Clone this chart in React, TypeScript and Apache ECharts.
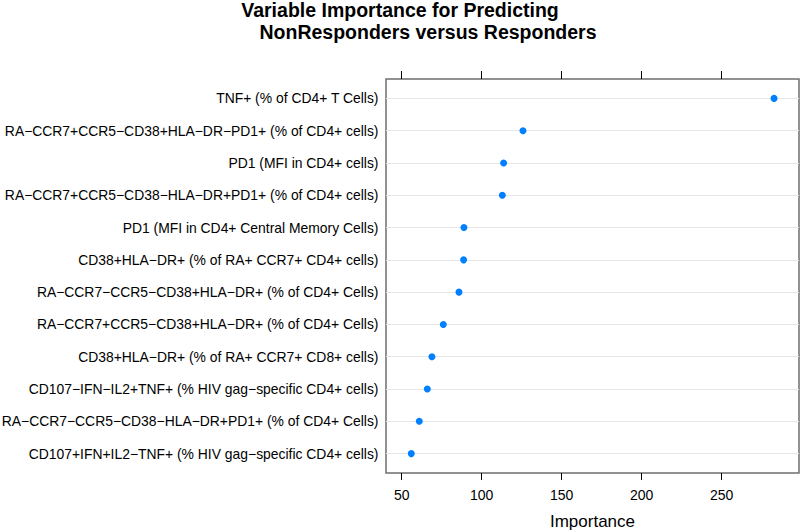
import React, { useEffect, useRef } from "react";
import * as echarts from "echarts";

const categories: string[] = [
  "TNF+ (% of CD4+ T Cells)",
  "RA−CCR7+CCR5−CD38+HLA−DR−PD1+ (% of CD4+ cells)",
  "PD1 (MFI in CD4+ cells)",
  "RA−CCR7+CCR5−CD38−HLA−DR+PD1+ (% of CD4+ cells)",
  "PD1 (MFI in CD4+ Central Memory Cells)",
  "CD38+HLA−DR+ (% of RA+ CCR7+ CD4+ cells)",
  "RA−CCR7−CCR5−CD38+HLA−DR+ (% of CD4+ Cells)",
  "RA−CCR7+CCR5−CD38+HLA−DR+ (% of CD4+ Cells)",
  "CD38+HLA−DR+ (% of RA+ CCR7+ CD8+ cells)",
  "CD107−IFN−IL2+TNF+ (% HIV gag−specific CD4+ cells)",
  "RA−CCR7−CCR5−CD38−HLA−DR+PD1+ (% of CD4+ Cells)",
  "CD107+IFN+IL2−TNF+ (% HIV gag−specific CD4+ cells)",
];

const importance: number[] = [282.7, 125.8, 113.7, 112.9, 88.9, 88.7, 85.8, 76.0, 68.9, 66.0, 61.0, 56.0];

const xTicks: number[] = [50, 100, 150, 200, 250];
const titleLines: string[] = ["Variable Importance for Predicting", "NonResponders versus Responders"];
const xName = "Importance";

const FONT = "'Liberation Sans', Arial, Helvetica, sans-serif";

export default function App() {
  const ref = useRef<HTMLDivElement>(null);
  useEffect(() => {
    document.body.style.margin = "0";
    if (!ref.current) return;
    const chart = echarts.init(ref.current, undefined, { renderer: "svg" });
    const rowIdx = categories.map((_, i) => i + 1);
    chart.setOption({
      animation: false,
      backgroundColor: "#ffffff",
      textStyle: { fontFamily: FONT },
      graphic: [
        {
          type: "text",
          x: 400,
          y: 0,
          style: { text: titleLines[0], fontSize: 19.5, fontWeight: "bold", fontFamily: FONT, fill: "#000", textAlign: "center" },
        },
        {
          type: "text",
          x: 428,
          y: 22,
          style: { text: titleLines[1], fontSize: 19.5, fontWeight: "bold", fontFamily: FONT, fill: "#000", textAlign: "center" },
        },
      ],
      grid: {
        left: 386,
        right: 1,
        top: 79,
        bottom: 58,
        show: true,
        borderColor: "#6e6e6e",
        borderWidth: 1.5,
        backgroundColor: "transparent",
        containLabel: false,
        outerBoundsMode: "none",
      },
      xAxis: [
        {
          type: "value",
          position: "bottom",
          min: 40.2,
          max: 298.3,
          axisLine: { show: false },
          axisTick: { show: true, length: 7, customValues: xTicks, lineStyle: { color: "#000" } },
          axisLabel: { customValues: xTicks, fontSize: 14, color: "#000", margin: 15, fontFamily: FONT },
          splitLine: { show: false },
          name: xName,
          nameLocation: "middle",
          nameGap: 40,
          nameTextStyle: { fontSize: 17, color: "#000", fontFamily: FONT },
        },
        {
          type: "value",
          position: "top",
          min: 40.2,
          max: 298.3,
          axisLine: { show: false },
          axisTick: { show: true, length: 8, customValues: xTicks, lineStyle: { color: "#000" } },
          axisLabel: { show: false },
          splitLine: { show: false },
        },
      ],
      yAxis: {
        type: "value",
        inverse: true,
        min: 0.4,
        max: 12.6,
        axisLine: { show: false },
        axisTick: { show: false, customValues: rowIdx },
        axisLabel: {
          customValues: rowIdx,
          fontSize: 13.9,
          color: "#000",
          margin: 7.5,
          fontFamily: FONT,
          formatter: (v: number) => categories[Math.round(v) - 1] ?? "",
        },
        splitLine: { show: true, lineStyle: { color: "#e6e6e6", width: 1 } },
      },
      series: [
        {
          type: "scatter",
          xAxisIndex: 0,
          symbol: "circle",
          symbolSize: 7,
          itemStyle: { color: "#0080ff", opacity: 1 },
          data: importance.map((v, i) => [v, i + 1]),
        },
      ],
    });
    return () => chart.dispose();
  }, []);
  return <div ref={ref} style={{ width: 800, height: 531 }} />;
}
